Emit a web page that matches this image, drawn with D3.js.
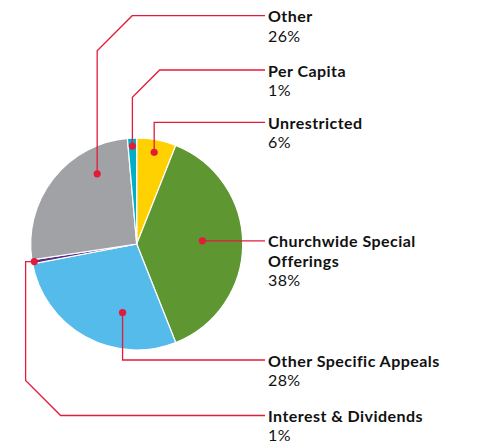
<!DOCTYPE html>
<html lang="en">
<head>
<meta charset="UTF-8">
<title>Revenue pie</title>
<script src="https://d3js.org/d3.v7.min.js"></script>
<style>
  body { margin: 0; background: #fff; }
  text { font-family: Lato, "Open Sans", sans-serif; fill: #111; }
</style>
</head>
<body>
<script>
// data, clockwise from 12 o'clock
const categories = ["Unrestricted", "Churchwide Special Offerings", "Other Specific Appeals",
                    "Interest & Dividends", "Other", "Per Capita"];
const labelLines = [["Unrestricted"], ["Churchwide Special", "Offerings"], ["Other Specific Appeals"],
                    ["Interest & Dividends"], ["Other"], ["Per Capita"]];
const values = [6, 38, 28, 0.6, 26, 1.4];
const colors = ["#FFD100", "#5E9732", "#54BBEA", "#5B2C86", "#A1A2A6", "#00AEC7"];

// leader layout: where the dot sits inside its slice (t = along the angle, k = share of radius)
// and where the label row is
const leaders = [
  { t: 0.5,  k: 0.88, lineY: 122.3, diag: 0 },
  { t: 0.48, k: 0.62, straight: true },
  { t: 0.33, k: 0.66, lineY: 360, diag: 0 },
  { t: 0.5,  k: 0.98, lineY: 415.5, diag: 35 },
  { t: 0.74, k: 0.76, lineY: 15.7, diag: 35 },
  { t: 0.5,  k: 0.925, lineY: 70, diag: 27.3 }
];
leaders[3].jog = -8.7;

const width = 492, height = 444;
const cx = 136.7, cy = 244, R = 106;
const lineEndX = 265, labelX = 268;
const red = "#E31B3B";
const fontSize = 16, lineStep = 19.3;

const svg = d3.select("body").append("svg")
  .attr("width", width)
  .attr("height", height);

const pie = d3.pie().sort(null).value(d => d);
const arcs = pie(values);
const arc = d3.arc().innerRadius(0).outerRadius(R);

const g = svg.append("g").attr("transform", `translate(${cx},${cy})`);
g.selectAll("path")
  .data(arcs)
  .join("path")
  .attr("d", arc)
  .attr("fill", (d, i) => colors[i])
  .attr("stroke", "#fff")
  .attr("stroke-width", 1.2);

// leader lines + dots
arcs.forEach((a, i) => {
  const L = leaders[i];
  const ang = a.startAngle + L.t * (a.endAngle - a.startAngle);
  const x0 = cx + Math.sin(ang) * R * L.k;
  const y0 = cy - Math.cos(ang) * R * L.k;
  const pts = [[x0, y0]];
  let lineY = y0;
  if (!L.straight) {
    lineY = L.lineY;
    let x = x0;
    if (L.jog) { x = x0 + L.jog; pts.push([x, y0]); }
    const dir = Math.sign(lineY - y0);
    pts.push([x, lineY - dir * L.diag]);
    if (L.diag) pts.push([x + L.diag, lineY]);
  }
  pts.push([lineEndX, lineY]);

  svg.append("path")
    .attr("d", d3.line()(pts))
    .attr("fill", "none")
    .attr("stroke", red)
    .attr("stroke-width", 1.3);
  svg.append("circle")
    .attr("cx", x0).attr("cy", y0).attr("r", 3.6)
    .attr("fill", red);

  const t = svg.append("text")
    .attr("x", labelX)
    .attr("y", lineY + 6.5)
    .attr("font-size", fontSize);
  labelLines[i].forEach((ln, j) => {
    t.append("tspan")
      .attr("x", labelX)
      .attr("dy", j === 0 ? 0 : lineStep)
      .attr("font-weight", 700)
      .attr("letter-spacing", 0.45)
      .text(ln);
  });
  t.append("tspan")
    .attr("x", labelX)
    .attr("dy", lineStep)
    .attr("letter-spacing", 0.4)
    .text(Math.round(values[i]) + "%");
});
</script>
</body>
</html>
